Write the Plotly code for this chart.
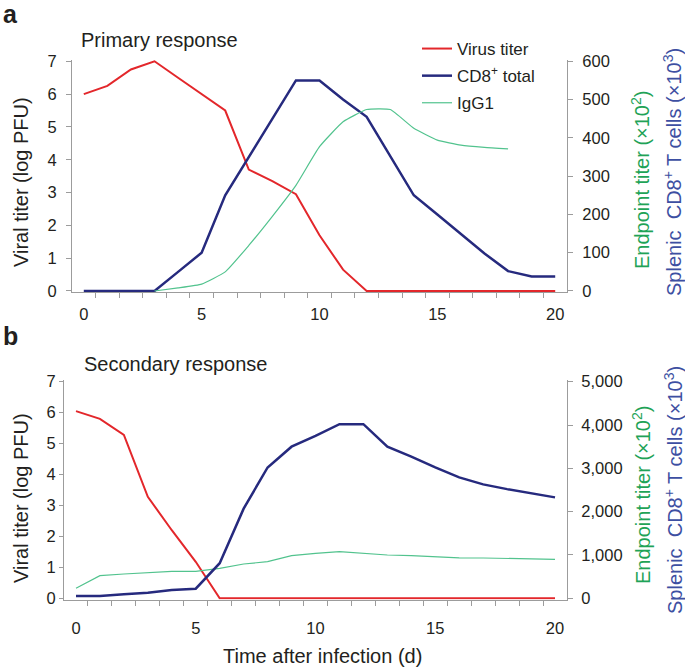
import plotly.graph_objects as go

W, H = 685, 671

# ---------------- data ----------------
days = list(range(21))

# Panel a: primary response
virus_a = [6.0, 6.25, 6.75, 7.0, 6.5, 6.0, 5.5, 3.7, 3.35, 2.95, 1.7, 0.65,
           0, 0, 0, 0, 0, 0, 0, 0, 0]
cd8_a = [0, 0, 0, 0, 50, 100, 250, 350, 450, 550, 550, 500, 455, 352, 250,
         200, 150, 98, 52, 38, 38]
igg_days_a = list(range(3, 19))
igg1_a = [0, 8, 18, 50, 119, 195, 276, 377, 442, 474, 474, 425, 394, 381, 375, 371]

# Panel b: secondary response
virus_b = [6.05, 5.8, 5.28, 3.28, 2.2, 1.18, 0, 0, 0, 0, 0, 0, 0, 0, 0, 0,
           0, 0, 0, 0, 0]
cd8_b = [55, 55, 92, 130, 190, 222, 810, 2070, 3020, 3500, 3750, 4020, 4020,
         3500, 3270, 3020, 2790, 2630, 2520, 2430, 2330]
igg1_b = [232, 523, 561, 591, 623, 623, 690, 792, 845, 983, 1039, 1076, 1039,
          1000, 985, 960, 935, 930, 925, 915, 900]

x_label_vals = [0, 5, 10, 15, 20]
x_minor_vals = [d + 0.5 for d in range(20)]
left_ticks = [0, 1, 2, 3, 4, 5, 6, 7]
right_ticks_a = [0, 100, 200, 300, 400, 500, 600]
right_ticks_b = [0, 1000, 2000, 3000, 4000, 5000]

# ---------------- style ----------------
RED = "#e3272b"
NAVY = "#262a7e"
GREEN = "#52c38e"
GREEN_TXT = "#1fa357"
BLUE_TXT = "#3d4fa2"
GRAY = "#9c9c9c"
TXT = "#231f20"
FONT = "Liberation Sans, Arial, Helvetica, sans-serif"

def px(x):
    return x / W

def py(y):
    return 1 - y / H

PAD = 0.04
# panel geometry (pixels)
A_LEFT, A_RIGHT, A_TOP0, A_BOT0 = 72, 567, 61.3, 291.0
B_LEFT, B_RIGHT, B_TOP0, B_BOT0 = 64, 567, 381.7, 598.3

def ydomain(top7, bot0):
    per = (bot0 - top7) / 7.0
    return [py(bot0 + PAD * per), py(top7 - PAD * per)]

dom_ax = [px(A_LEFT), px(A_RIGHT)]
dom_bx = [px(B_LEFT), px(B_RIGHT)]
dom_ay = ydomain(A_TOP0, A_BOT0)
dom_by = ydomain(B_TOP0, B_BOT0)

fig = go.Figure()

# ---- panel a traces ----
fig.add_trace(go.Scatter(x=days, y=virus_a, mode="lines", name="Virus titer",
                         line=dict(color=RED, width=2), xaxis="x", yaxis="y",
                         legendgroup="g1"))
fig.add_trace(go.Scatter(x=days, y=cd8_a, mode="lines", name="CD8<sup>+</sup> total",
                         line=dict(color=NAVY, width=2.5), xaxis="x", yaxis="y2",
                         legendgroup="g2"))
fig.add_trace(go.Scatter(x=igg_days_a, y=igg1_a, mode="lines", name="IgG1",
                         line=dict(color=GREEN, width=1.2, shape="spline", smoothing=0.4),
                         xaxis="x", yaxis="y2", legendgroup="g3"))

# ---- panel b traces ----
fig.add_trace(go.Scatter(x=days, y=igg1_b, mode="lines", showlegend=False,
                         line=dict(color=GREEN, width=1.2), xaxis="x2", yaxis="y6"))
fig.add_trace(go.Scatter(x=days, y=cd8_b, mode="lines", showlegend=False,
                         line=dict(color=NAVY, width=2.5), xaxis="x2", yaxis="y6"))
fig.add_trace(go.Scatter(x=days, y=virus_b, mode="lines", showlegend=False,
                         line=dict(color=RED, width=2), xaxis="x2", yaxis="y5"))

XR = [-0.5, 20.5]
tickfont = dict(family=FONT, size=16.5, color=TXT)

def yrange(top):
    return [-PAD * top / 7.0, top + PAD * top / 7.0]

def main_x(domain, anchor, standoff):
    return dict(domain=domain, anchor=anchor, range=XR, showgrid=False, zeroline=False,
                showline=True, linecolor=GRAY, linewidth=1, automargin=False,
                tickmode="array", tickvals=x_label_vals, ticks="",
                ticklabelstandoff=standoff, tickfont=tickfont,
                minor=dict(tickmode="array", tickvals=x_minor_vals, ticks="outside",
                           ticklen=5, tickcolor=GRAY, tickwidth=1, showgrid=False))

def inner_x(overlay, anchor):
    return dict(overlaying=overlay, anchor=anchor, range=XR, showgrid=False,
                zeroline=False, showline=False, tickmode="array", automargin=False,
                tickvals=x_minor_vals, ticks="inside", ticklen=5, tickcolor=GRAY,
                showticklabels=False, side="bottom")

def main_y(domain, anchor, top, vals, side, standoff, ticklen=5, fmt=None, overlay=None):
    d = dict(domain=domain, anchor=anchor, range=yrange(top), showgrid=False,
             zeroline=False, showline=True, linecolor=GRAY, linewidth=1,
             tickmode="array", tickvals=vals, ticks="outside", ticklen=ticklen,
             tickcolor=GRAY, tickfont=tickfont, side=side, automargin=False,
             ticklabelstandoff=standoff)
    if fmt:
        d["tickformat"] = fmt
    if overlay:
        d["overlaying"] = overlay
    return d

def inner_y(overlay, anchor, top, vals, side, ticklen=5):
    return dict(overlaying=overlay, anchor=anchor, range=yrange(top), showgrid=False,
                zeroline=False, showline=False, tickmode="array", tickvals=vals,
                ticks="inside", ticklen=ticklen, tickcolor=GRAY, showticklabels=False,
                side=side, automargin=False)

fig.update_layout(
    width=W, height=H,
    margin=dict(l=0, r=0, t=0, b=0, pad=0),
    paper_bgcolor="white", plot_bgcolor="rgba(0,0,0,0)",
    font=dict(family=FONT, color=TXT),
    xaxis=main_x(dom_ax, "y", 7),
    yaxis=main_y(dom_ay, "x", 7, left_ticks, "left", 6),
    yaxis2=main_y(dom_ay, "x", 600, right_ticks_a, "right", 6, overlay="y"),
    xaxis3=inner_x("x", "y"),
    yaxis3=inner_y("y", "x", 7, left_ticks, "left"),
    yaxis4=inner_y("y", "x", 600, right_ticks_a, "right"),
    xaxis2=main_x(dom_bx, "y5", 14),
    yaxis5=main_y(dom_by, "x2", 7, left_ticks, "left", 0, ticklen=4),
    yaxis6=main_y(dom_by, "x2", 5000, right_ticks_b, "right", 5, fmt=",d", overlay="y5"),
    xaxis4=inner_x("x2", "y5"),
    yaxis7=inner_y("y5", "x2", 7, left_ticks, "left", ticklen=4),
    yaxis8=inner_y("y5", "x2", 5000, right_ticks_b, "right"),
    legend=dict(x=px(417), y=py(31), xanchor="left", yanchor="top",
                bgcolor="rgba(0,0,0,0)", font=dict(family=FONT, size=17, color=TXT),
                tracegroupgap=2, itemwidth=30),
    showlegend=True,
)

ann = []
def A(x, y, text, size, color=TXT, angle=0, bold=False, xanchor="center"):
    ann.append(dict(x=px(x), y=py(y), xref="paper", yref="paper", text=text,
                    showarrow=False, textangle=angle, xanchor=xanchor, yanchor="middle",
                    font=dict(family=FONT, size=size, color=color,
                              weight="bold" if bold else "normal")))

A(10, 14, "a", 25, bold=True)
A(10, 336, "b", 25, bold=True)
A(159, 40, "Primary response", 20)
A(175, 364, "Secondary response", 20)
A(21, 182, "Viral titer (log PFU)", 20, angle=-90)
A(21, 498, "Viral titer (log PFU)", 20, angle=-90)
A(322, 656, "Time after infection (d)", 20)
A(641, 180, "Endpoint titer (×10<sup>2</sup>)", 20, color=GREEN_TXT, angle=-90)
A(673, 172, "Splenic  CD8<sup>+</sup> T cells (×10<sup>3</sup>)", 20, color=BLUE_TXT, angle=-90)
A(641, 495, "Endpoint titer (×10<sup>2</sup>)", 20, color=GREEN_TXT, angle=-90)
A(673, 490, "Splenic  CD8<sup>+</sup> T cells (×10<sup>3</sup>)", 20, color=BLUE_TXT, angle=-90)
fig.update_layout(annotations=ann)

fig.write_html("out.html", config={"displayModeBar": False},
               post_script="document.body.style.margin='0';document.body.style.overflow='hidden';")
